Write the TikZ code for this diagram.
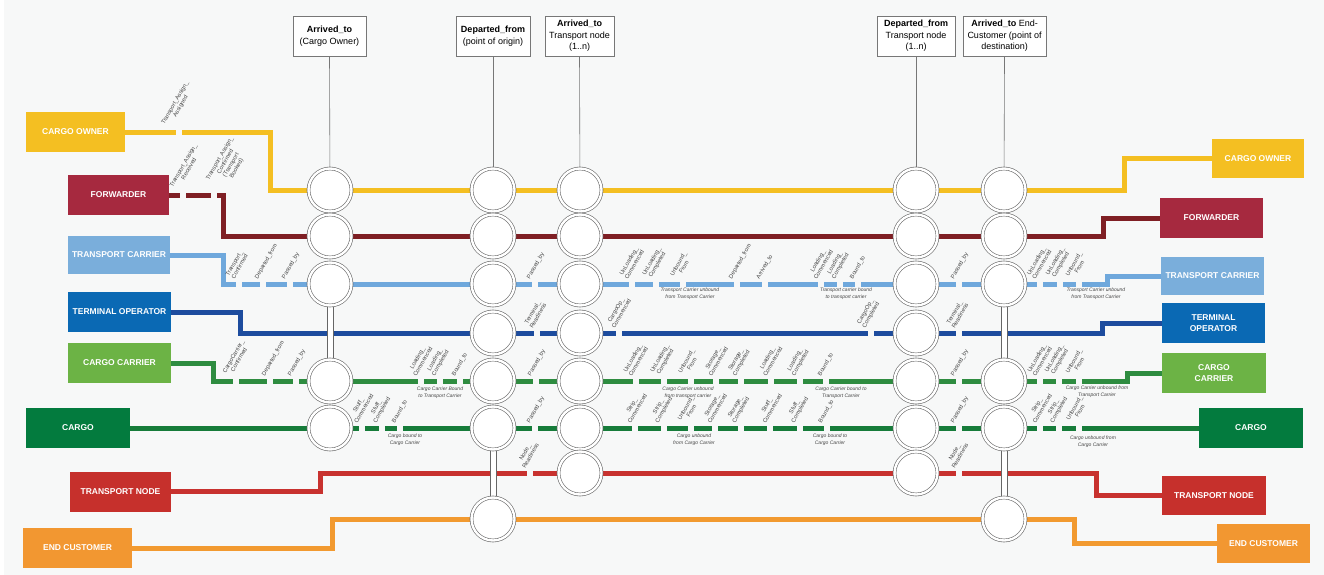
\documentclass[tikz,border=0pt]{standalone}
\usepackage{fontspec}
\setmainfont{Liberation Sans}
\pgfdeclarelayer{bglayer}
\pgfdeclarelayer{linelayer}
\pgfsetlayers{bglayer,linelayer,main}
\definecolor{bgc}{HTML}{F7F8F8}
\definecolor{coB}{HTML}{F4BF22}\definecolor{coC}{HTML}{F4BF22}
\definecolor{fwB}{HTML}{A6293F}\definecolor{fwC}{HTML}{7F1F24}
\definecolor{tcB}{HTML}{7AAEDB}\definecolor{tcC}{HTML}{6FA8DC}
\definecolor{toB}{HTML}{0A69B4}\definecolor{toC}{HTML}{1D4C9E}
\definecolor{ccB}{HTML}{6CB345}\definecolor{ccC}{HTML}{2E8C40}
\definecolor{cgB}{HTML}{037B3E}\definecolor{cgC}{HTML}{167C3A}
\definecolor{tnB}{HTML}{C6302C}\definecolor{tnC}{HTML}{C8322F}
\definecolor{ecB}{HTML}{F29731}\definecolor{ecC}{HTML}{F29A30}
\definecolor{ringC}{HTML}{666666}
\definecolor{tbC}{HTML}{777777}
\definecolor{lblC}{HTML}{444444}
\tikzset{
  lbox/.style={fill=#1, text=white, font=\fontsize{8.5}{10.7}\selectfont\bfseries,
    minimum height=40, inner sep=0, align=center},
  rt/.style={line width=5, line join=miter, draw=#1},
  stn/.style={circle, draw=ringC, double=white, double distance=2.4, line width=0.6,
    fill=white, minimum size=43, inner sep=0},
  bar/.style={draw=ringC, fill=white, line width=0.6},
  topbox/.style={draw=tbC, fill=white, line width=0.6, minimum height=40, inner sep=1,
    align=center, font=\fontsize{9}{11.5}\selectfont},
  lbl/.style={rotate=60, anchor=south west, align=center, inner sep=0,
    font=\fontsize{5.8}{6.5}\selectfont, text=lblC},
  sub/.style={align=center, inner sep=0, font=\fontsize{5}{7}\selectfont\itshape, text=lblC},
  vline/.style={draw=tbC, line width=0.6}
}
\newcommand\gaplab[4]{%
  \fill[bgc] ({#2-3},{#3-4}) rectangle ({#2+3},{#3+4});
  \node[lbl] (#1) at ({#2-4},{#3-4}) {#4};}
\newcommand\gapfill[2]{\fill[bgc] ({#1-3},{#2-4}) rectangle ({#1+3},{#2+4});}
\begin{document}
\begin{tikzpicture}[x=1pt,y=-1pt]
\useasboundingbox (0,0) rectangle (1324,575);
\begin{pgfonlayer}{bglayer}
\fill[white] (0,0) rectangle (1324,575);
\fill[bgc] (4,0) rectangle (1324,575);
\end{pgfonlayer}

% left label boxes
\node[lbox=coB,minimum width=99] (coL) at (75.5,132) {CARGO OWNER};
\node[lbox=fwB,minimum width=101] (fwL) at (118.5,195) {FORWARDER};
\node[lbox=tcB,minimum width=102,minimum height=38] (tcL) at (119,255) {TRANSPORT CARRIER};
\node[lbox=toB,minimum width=103] (toL) at (119.5,312) {TERMINAL OPERATOR};
\node[lbox=ccB,minimum width=103] (ccL) at (119.5,363) {CARGO CARRIER};
\node[lbox=cgB,minimum width=104] (cgL) at (78,428) {CARGO};
\node[lbox=tnB,minimum width=101] (tnL) at (120.5,491.5) {TRANSPORT NODE};
\node[lbox=ecB,minimum width=109] (ecL) at (77.5,548) {END CUSTOMER};
% right label boxes
\node[lbox=coB,minimum width=92,minimum height=39] (coR) at (1258,158.5) {CARGO OWNER};
\node[lbox=fwB,minimum width=103] (fwR) at (1211.5,218) {FORWARDER};
\node[lbox=tcB,minimum width=103,minimum height=38] (tcR) at (1212.5,276) {TRANSPORT CARRIER};
\node[lbox=toB,minimum width=103] (toR) at (1213.5,323) {TERMINAL\\OPERATOR};
\node[lbox=ccB,minimum width=104] (ccR) at (1214,373) {CARGO\\CARRIER};
\node[lbox=cgB,minimum width=104] (cgR) at (1251,428) {CARGO};
\node[lbox=tnB,minimum width=104,minimum height=39] (tnR) at (1214,495.5) {TRANSPORT NODE};
\node[lbox=ecB,minimum width=93,minimum height=39] (ecR) at (1263.5,543.5) {END CUSTOMER};

% stations
\foreach \r/\yy in {y/190,f/236,t/284,c/381,g/428} \node[stn] (n1\r) at (330,\yy) {};
\foreach \r/\yy in {y/190,f/236,t/284,o/333,c/381,g/428,e/519} \node[stn] (n2\r) at (493,\yy) {};
\foreach \r/\yy in {y/190,f/236,t/284,o/333,c/381,g/428,n/473} \node[stn] (n3\r) at (580,\yy) {};
\foreach \r/\yy in {y/190,f/236,t/284,o/333,c/381,g/428,n/473} \node[stn] (n4\r) at (916,\yy) {};
\foreach \r/\yy in {y/190,f/236,t/284,c/381,g/428,e/519} \node[stn] (n5\r) at (1004,\yy) {};

% top boxes
\node[topbox,minimum width=73] (t1) at (329.5,36) {{\bfseries Arrived\_to}\\(Cargo Owner)};
\node[topbox,minimum width=74] (t2) at (493,36) {{\bfseries Departed\_from}\\(point of origin)};
\node[topbox,minimum width=69] (t3) at (579.5,36) {{\bfseries Arrived\_to}\\Transport node\\(1..n)};
\node[topbox,minimum width=78] (t4) at (916,36) {{\bfseries Departed\_from}\\Transport node\\(1..n)};
\node[topbox,minimum width=83] (t5) at (1004.5,36) {{\bfseries Arrived\_to} End-\\Customer (point of\\destination)};

\begin{pgfonlayer}{linelayer}
\draw[vline] (t1.south) -- (n1y.center);
\draw[vline] (t2.south) -- (n2y.center);
\draw[vline] (t3.south) -- (n3y.center);
\draw[vline] (t4.south) -- (n4y.center);
\draw[vline] (t5.south) -- (n5y.center);

\draw[rt=coC] (coL.east) -- (270.5,132) -- (270.5,190) -- (n1y.center) -- (n2y.center) -- (n3y.center) -- (n4y.center) -- (n5y.center) -- (1124.5,190) -- (1124.5,158.5) -- (coR.west);
\draw[rt=fwC] (fwL.east) -- (223,195) -- (223,236) -- (n1f.center) -- (n2f.center) -- (n3f.center) -- (n4f.center) -- (n5f.center) -- (1103,236) -- (1103,218) -- (fwR.west);
\draw[rt=tcC] (tcL.east) -- (223,255) -- (223,284) -- (n1t.center) -- (n2t.center) -- (n3t.center) -- (n4t.center) -- (n5t.center) -- (1107,284) -- (1107,276) -- (tcR.west);
\draw[rt=toC] (toL.east) -- (240,312) -- (240,333) -- (n2o.center) -- (n3o.center) -- (n4o.center) -- (1102,333) -- (1102,323) -- (toR.west);
\draw[rt=ccC] (ccL.east) -- (213,363) -- (213,381) -- (n1c.center) -- (n2c.center) -- (n3c.center) -- (n4c.center) -- (n5c.center) -- (1127,381) -- (1127,373) -- (ccR.west);
\draw[rt=cgC] (cgL.east) -- (n1g.center) -- (n2g.center) -- (n3g.center) -- (n4g.center) -- (n5g.center) -- (cgR.west);
\draw[rt=tnC] (tnL.east) -- (320,491.5) -- (320,473) -- (n3n.center) -- (n4n.center) -- (1096,473) -- (1096,495.5) -- (tnR.west);
\draw[rt=ecC] (ecL.east) -- (332,548) -- (332,519) -- (n2e.center) -- (n5e.center) -- (1074,519) -- (1074,543.5) -- (ecR.west);

% gaps and event labels
\gapfill{179}{132}
\node[lbl] (ly1) at (171,129) {Transport\_Assign\_\\Assigned};
\gaplab{lf1}{182.5}{195}{Transport\_Assign\_\\Received}
\gapfill{213.5}{195}
\node[lbl] (lf2) at (227,191) {Transport\_Assign\_\\Confirmed\\(Transport\\Booked)};

\foreach \x/\txt [count=\i] in {238.5/{Transport\_\\Confirmed}, 263/{Departed\_from}, 290/{Passed\_by}, 535/{Passed\_by}, 632/{UnLoading\_\\Commenced}, 656/{UnLoading\_\\Completed}, 683/{Unbound\_\\From}, 737/{Departed\_from}, 764.5/{Arrived\_to}, 821/{Loading\_\\Commenced}, 840/{Loading\_\\Completed}, 858/{Bound\_to}, 959/{Passed\_by}, 1039.5/{UnLoading\_\\Commenced}, 1059.5/{UnLoading\_\\Completed}, 1078.5/{Unbound\_\\From}}
  {\gaplab{lt\i}{\x}{284}{\txt}}

\foreach \x/\txt [count=\i] in {537/{Terminal\_\\Readiness}, 619/{CargoOp\_\\Commenced}, 870.5/{CargoOp\_\\Completed}, 959/{Terminal\_\\Readiness}}
  {\gaplab{lo\i}{\x}{333}{\txt}}

\foreach \x/\txt [count=\i] in {235.5/{CargoCarrier\_\\Confirmed}, 270/{Departed\_from}, 296/{Passed\_by}, 420.5/{Loading\_\\Commenced}, 440/{Loading\_\\Completed}, 460/{Bound\_to}, 536/{Passed\_by}, 636/{UnLoading\_\\Commenced}, 664/{UnLoading\_\\Completed}, 691/{Unbound\_\\From}, 716/{Storage\_\\Commenced}, 741/{Storage\_\\Completed}, 770.5/{Loading\_\\Commenced}, 800/{Loading\_\\Completed}, 826/{Bound\_to}, 959/{Passed\_by}, 1040/{UnLoading\_\\Commenced}, 1058.5/{UnLoading\_\\Completed}, 1078.5/{Unbound\_\\From}}
  {\gaplab{lc\i}{\x}{381}{\txt}}

\foreach \x/\txt [count=\i] in {361.5/{Stuff\_\\Commenced}, 381.5/{Stuff\_\\Completed}, 400/{Bound\_to}, 535/{Passed\_by}, 635/{Strip\_\\Commenced}, 663.5/{Strip\_\\Completed}, 690.5/{Unbound\_\\From}, 715/{Storage\_\\Commenced}, 740.5/{Storage\_\\Completed}, 770/{Stuff\_\\Commenced}, 799.5/{Stuff\_\\Completed}, 826.5/{Bound\_to}, 959/{Passed\_by}, 1040/{Strip\_\\Commenced}, 1058.5/{Strip\_\\Completed}, 1079/{Unbound\_\\From}}
  {\gaplab{lg\i}{\x}{428}{\txt}}

\foreach \x/\txt [count=\i] in {529.5/{Node\_\\Readiness}, 959/{Node\_\\Readiness}}
  {\gaplab{ln\i}{\x}{473}{\txt}}

% connector bars between stations
\draw[bar] ([xshift=-3pt]n1t.center) rectangle ([xshift=3pt]n1c.center);
\draw[bar] ([xshift=-3pt]n2g.center) rectangle ([xshift=3pt]n2e.center);
\draw[bar] ([xshift=-3pt]n5t.center) rectangle ([xshift=3pt]n5c.center);
\draw[bar] ([xshift=-3pt]n5g.center) rectangle ([xshift=3pt]n5e.center);
\end{pgfonlayer}

% sub labels
\node[sub] (s1) at (690,293.5) {Transport Carrier unbound\\from Transport Carrier};
\node[sub] (s2) at (846,293.5) {Transport carrier bound\\to transport carrier};
\node[sub] (s3) at (1096,293.5) {Transport Carrier unbound\\from Transport Carrier};
\node[sub] (s4) at (440,393) {Cargo Carrier Bound\\to Transport Carrier};
\node[sub] (s5) at (688,392.5) {Cargo Carrier unbound\\from transport carrier};
\node[sub] (s6) at (841,392.5) {Cargo Carrier bound to\\Transport Carrier};
\node[sub] (s7) at (1097,391.5) {Cargo Carrier unbound from\\Transport Carrier};
\node[sub] (s8) at (405,439.5) {Cargo bound to\\Cargo Carrier};
\node[sub] (s9) at (694,439.5) {Cargo unbound\\from Cargo Carrier};
\node[sub] (s10) at (830,439.5) {Cargo bound to\\Cargo Carrier};
\node[sub] (s11) at (1093,441.5) {Cargo unbound from\\Cargo Carrier};
\end{tikzpicture}
\end{document}
